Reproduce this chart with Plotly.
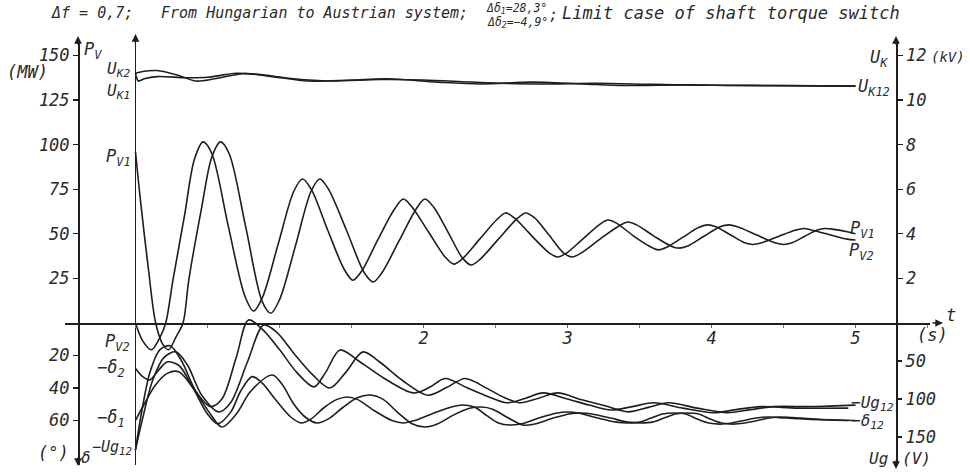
import plotly.graph_objects as go

# ---------------- data ----------------
# active power P_V (MW)
t_pv2 = [0, 0.05, 0.11, 0.17, 0.21, 0.26, 0.34, 0.41, 0.47, 0.53, 0.645, 0.76, 0.82, 0.88, 0.99, 1.1, 1.16, 1.22,
         1.335, 1.45, 1.51, 1.57, 1.685, 1.8, 1.86, 1.92, 2.035, 2.15, 2.21, 2.27, 2.39, 2.51, 2.57, 2.63, 2.75, 2.87,
         2.93, 2.99, 3.105, 3.22, 3.28, 3.34, 3.455, 3.57, 3.63, 3.69, 3.8, 3.91, 3.97, 4.03, 4.13, 4.23, 4.29, 4.35,
         4.465, 4.58, 4.64, 4.7, 4.82, 4.94, 5.0]
pv2 = [0, -10, -15, -8, 0, 24, 60, 92, 101.5, 95, 54, 15, 6.7, 14, 44, 74, 80.7, 75,
       52, 30, 24, 29, 47, 64, 69.5, 65, 51, 37, 33, 36, 47, 58, 61.7, 59, 49, 39.5,
       37, 39, 47, 55, 57.7, 56, 49, 43, 41, 42.5, 48, 53.5, 55, 54, 49.5, 45, 44, 45,
       48.5, 52, 53, 52, 49.5, 47, 46.5]
t_pv1 = [0, 0.03, 0.09, 0.14, 0.19, 0.23, 0.28, 0.33, 0.37, 0.46, 0.53, 0.59, 0.65, 0.765, 0.88, 0.94, 1.0, 1.11,
         1.22, 1.28, 1.34, 1.465, 1.59, 1.65, 1.71, 1.83, 1.95, 2.01, 2.07, 2.17, 2.27, 2.33, 2.39, 2.52, 2.65, 2.71,
         2.77, 2.87, 2.97, 3.03, 3.09, 3.225, 3.36, 3.42, 3.48, 3.595, 3.71, 3.77, 3.83, 3.945, 4.06, 4.12, 4.18, 4.31,
         4.44, 4.5, 4.56, 4.645, 4.73, 4.79, 4.85, 4.95, 5.0]
pv1 = [96, 72, 30, 0, -12, -15, -8, 0, 24, 65, 93, 101.5, 95, 54, 12, 5.5, 13, 43,
       74, 80.7, 75, 52, 28, 23, 28, 46, 64, 69.5, 65, 51, 36.5, 32.5, 35.5, 47, 58.5, 61.7,
       59, 49.5, 39.5, 37, 39, 47, 54.5, 56.6, 55, 49, 43.5, 42, 43, 48.5, 54, 55, 54, 49.5,
       45, 44, 45, 48.5, 52, 53, 52.5, 51, 50]

# terminal voltage U_K (kV)
t_uk2 = [0, 0.05, 0.15, 0.3, 0.42, 0.55, 0.75, 0.95, 1.2, 1.5, 1.75, 2.1, 2.4, 2.75, 3.1, 3.4, 3.8, 4.2, 5.0]
uk2 = [11.2, 11.28, 11.32, 11.1, 10.85, 10.95, 11.18, 11.05, 10.85, 10.9, 10.95, 10.8, 10.72, 10.8, 10.72,
       10.65, 10.68, 10.65, 10.62]
t_uk1 = [0, 0.02, 0.06, 0.15, 0.35, 0.5, 0.7, 0.85, 1.1, 1.35, 1.7, 2.0, 2.4, 2.8, 3.2, 3.6, 4.0, 4.5, 5.0]
uk1 = [11.2, 10.85, 10.95, 11.05, 11.0, 11.02, 11.2, 11.15, 10.95, 10.85, 10.92, 10.9, 10.78, 10.72, 10.75,
       10.7, 10.66, 10.65, 10.62]

# load angle -delta (degrees, axis pointing down)
t_d2 = [0, 0.05, 0.1, 0.16, 0.22, 0.3, 0.4, 0.5, 0.57, 0.66, 0.73, 0.81, 0.88, 0.98, 1.08, 1.15, 1.22, 1.31, 1.4,
        1.47, 1.54, 1.66, 1.78, 1.86, 1.94, 2.07, 2.2, 2.28, 2.36, 2.44, 2.52, 2.6, 2.68, 2.8, 2.92, 3.0, 3.08,
        3.21, 3.34, 3.42, 3.5, 3.58, 3.66, 3.74, 3.82, 3.9, 3.98, 4.06, 4.14, 4.225, 4.31, 4.39, 4.47, 4.67, 4.95]
d2 = [28, 33, 35, 29, 24, 26, 40, 56, 62, 55, 42, 33, 37, 48, 58, 61.5, 59, 52, 47,
      45.5, 47, 54, 60, 61.5, 60, 55.5, 51.5, 50.5, 52, 57, 61.5, 62.8, 62, 58.5, 55.5, 54.8, 55.5,
      58.5, 61, 61.5, 61, 58.5, 56, 55.4, 56, 59, 61.5, 62.2, 61.5, 60, 58.5, 57.8, 58.2, 59.2, 60]
t_d1 = [0, 0.06, 0.14, 0.22, 0.3, 0.4, 0.52, 0.6, 0.7, 0.8, 0.95, 1.02, 1.1, 1.18, 1.26, 1.34, 1.44, 1.54, 1.63,
        1.72, 1.82, 1.92, 2.01, 2.1, 2.2, 2.32, 2.4, 2.48, 2.58, 2.69, 2.77, 2.9, 3.02, 3.09, 3.17, 3.3, 3.42,
        3.51, 3.59, 3.67, 3.75, 3.83, 3.91, 3.99, 4.07, 4.15, 4.23, 4.32, 4.4, 4.48, 4.56, 4.75, 5.0]
d1 = [60, 50, 38, 31, 30, 40, 56, 64, 56, 42, 32, 38, 50, 58, 61.5, 59, 52, 46, 44.3,
      47, 55, 62, 64, 62, 57, 52.5, 51.7, 53, 58, 62.8, 62.2, 58.5, 55.8, 55.4, 56, 58.5, 61,
      61.5, 61, 58.5, 56, 55.4, 56, 59, 61.5, 62.2, 61.5, 60, 58.5, 57.8, 58.2, 59.2, 60]

# excitation voltage -Ug (V, axis pointing down)
t_ug1 = [0, 0.04, 0.1, 0.17, 0.24, 0.32, 0.42, 0.52, 0.6, 0.7, 0.785, 0.88, 1.0, 1.12, 1.24, 1.32, 1.42, 1.55,
         1.72, 1.93, 2.04, 2.15, 2.3, 2.45, 2.58, 2.71, 2.83, 3.0, 3.15, 3.3, 3.45, 3.6, 3.8, 4.01, 4.17, 4.34,
         4.6, 4.95]
ug1 = [167, 120, 65, 35, 30, 50, 90, 110, 100, 45, -4, 8, 35, 65, 84, 65, 35.5, 50,
       72, 92, 85, 73, 85, 97, 105, 99, 92, 100, 108, 114.5, 110, 105, 112, 118, 114, 110,
       112, 112]
t_ug2 = [0, 0.05, 0.12, 0.2, 0.28, 0.36, 0.46, 0.58, 0.66, 0.78, 0.89, 0.98, 1.1, 1.23, 1.35, 1.46, 1.58, 1.7,
         1.85, 2.03, 2.16, 2.29, 2.44, 2.56, 2.67, 2.8, 2.93, 3.1, 3.26, 3.42, 3.56, 3.7, 3.9, 4.11, 4.27, 4.43,
         4.7, 5.0]
ug2 = [167, 125, 75, 45, 38, 55, 95, 117, 105, 50, 2.6, 12, 40, 68, 85.5, 65, 38, 52,
       75, 95, 85, 73, 86, 98, 105, 99, 92, 101, 109, 117, 111, 105, 112, 118, 114, 110,
       110, 108]

# tick labels
pv_ticks = [25, 50, 75, 100, 125, 150]
delta_ticks = [20, 40, 60]
uk_ticks = [2, 4, 6, 8, 10, 12]
ug_ticks = [50, 100, 150]
t_ticks = [2, 3, 4, 5]

# ---------------- geometry ----------------
W, H = 970, 476
L, R, T, B = 65, 40, 40, 11
PW, PH = W - L - R, H - T - B
Y0 = 323          # pixel row of the zero line
X0 = 135.5        # pixel column of t = 0
S_T = 144.0       # px per second
S_P = 44.6 / 25   # px per MW
S_D = 32.5 / 20   # px per degree
S_U = 44.6 / 2    # px per kV
S_G = 38.0 / 50   # px per V


def px(X):
    return (X - L) / PW


def py(Y):
    return (H - B - Y) / PH


INK = "#1e1e1e"
FAM = "DejaVu Sans Mono"
FONT = dict(family=FAM, size=17, color="#2a2a2a", style="italic")

fig = go.Figure()
line = dict(color=INK, width=1.6, shape="spline", smoothing=0.9)
for tx, vy, ax in [(t_pv1, pv1, "y"), (t_pv2, pv2, "y"), (t_uk1, uk1, "y3"), (t_uk2, uk2, "y3"),
                   (t_d1, d1, "y2"), (t_d2, d2, "y2"), (t_ug1, ug1, "y4"), (t_ug2, ug2, "y4")]:
    fig.add_trace(go.Scatter(x=tx, y=vy, mode="lines", line=line, yaxis=ax, hoverinfo="skip",
                             showlegend=False))

axis_common = dict(showgrid=False, zeroline=False, linecolor=INK, linewidth=1.5, tickcolor=INK,
                   ticks="outside", ticklen=5, tickwidth=1.2, tickfont=FONT, anchor="free")

fig.update_layout(
    width=W, height=H, margin=dict(l=L, r=R, t=T, b=B),
    paper_bgcolor="white", plot_bgcolor="white", font=FONT, showlegend=False,
    xaxis=dict(range=[(L - X0) / S_T, (W - R - X0) / S_T], showgrid=False, zeroline=True,
               zerolinecolor=INK, zerolinewidth=1.5, showline=True, linecolor=INK, linewidth=1.5,
               anchor="free", position=py(Y0), ticks="outside", ticklen=3, tickcolor="#666",
               tickvals=t_ticks, tickfont=FONT, ticklabelstandoff=-4,
               minor=dict(ticks="outside", ticklen=3, dtick=0.5, tick0=0, tickcolor="#777")),
    yaxis=dict(range=[(Y0 - (H - B)) / S_P, (Y0 - T) / S_P], position=px(78), side="left",
               showline=True, tickvals=pv_ticks, **axis_common),
    yaxis2=dict(range=[((H - B) - Y0) / S_D, -(Y0 - T) / S_D], position=px(78), side="left",
                overlaying="y", showline=False, tickvals=delta_ticks, **axis_common),
    yaxis3=dict(range=[(Y0 - (H - B)) / S_U, (Y0 - T) / S_U], position=px(896), side="right",
                overlaying="y", showline=True, tickvals=uk_ticks, **axis_common),
    yaxis4=dict(range=[((H - B) - Y0) / S_G, -(Y0 - T) / S_G], position=px(896), side="right",
                overlaying="y", showline=False, tickvals=ug_ticks, **axis_common),
)

ann = []


def label(text, X, Y, size=17):
    """Text centred on pixel (X, Y) of the 970x476 picture."""
    ann.append(dict(text=text, x=px(X), y=py(Y), xref="paper", yref="paper", showarrow=False,
                    xanchor="center", yanchor="middle", font=dict(FONT, size=size)))


def arrow(X, Y, dx, dy):
    ann.append(dict(text="", x=px(X), y=py(Y), xref="paper", yref="paper", showarrow=True,
                    ax=dx, ay=dy, arrowhead=2, arrowsize=1.1, arrowwidth=1.4, arrowcolor=INK))


# arrow heads at the ends of the axes
arrow(78, 36, 0, 10)
arrow(X0, 34, 0, 10)
arrow(896, 36, 0, 10)
arrow(943, Y0, -12, 0)
arrow(78, 466, 0, -10)
arrow(896, 469, 0, -10)

# axis captions
label("P<sub>V</sub>", 93, 50)
label("(MW)", 27, 72)
label("(\u00b0)", 53, 453)
label("\u03b4", 86, 457, 16)
label("U<sub>K</sub>", 879, 58)
label("(kV)", 948, 57, 14)
label("Ug", 878, 458, 16)
label("(V)", 916, 458, 16)
label("t", 951, 315)
label("(s)", 932, 335)

# curve labels
label("U<sub>K2</sub>", 118, 70, 16)
label("U<sub>K1</sub>", 118, 91, 16)
label("P<sub>V1</sub>", 118, 157)
label("P<sub>V2</sub>", 117, 342)
label("\u2212\u03b4<sub>2</sub>", 111, 368)
label("\u2212\u03b4<sub>1</sub>", 111, 418)
label("\u2212Ug<sub>12</sub>", 112, 447, 15)
label("P<sub>V1</sub>", 862, 230)
label("P<sub>V2</sub>", 861, 252)
label("U<sub>K12</sub>", 874, 87)
label("\u2212Ug<sub>12</sub>", 872, 403, 16)
label("\u2212\u03b4<sub>12</sub>", 867, 421, 16)

# title line
label("From Hungarian to Austrian system;", 314, 13, 15)
label("\u0394\u03b4<sub>1</sub>=28,3\u00b0", 516, 8, 11.5)
label("\u0394\u03b4<sub>2</sub>=\u22124,9\u00b0", 517, 22, 11.5)
label(";", 553, 15, 15)
label("Limit case of shaft torque switch", 731, 13, 17)
label("\u0394f = 0,7;", 92, 13, 15)

fig.update_layout(annotations=ann)
fig.write_html("out.html", config={"displayModeBar": False, "staticPlot": True},
               post_script="document.body.style.margin='0';document.body.style.padding='0';")
